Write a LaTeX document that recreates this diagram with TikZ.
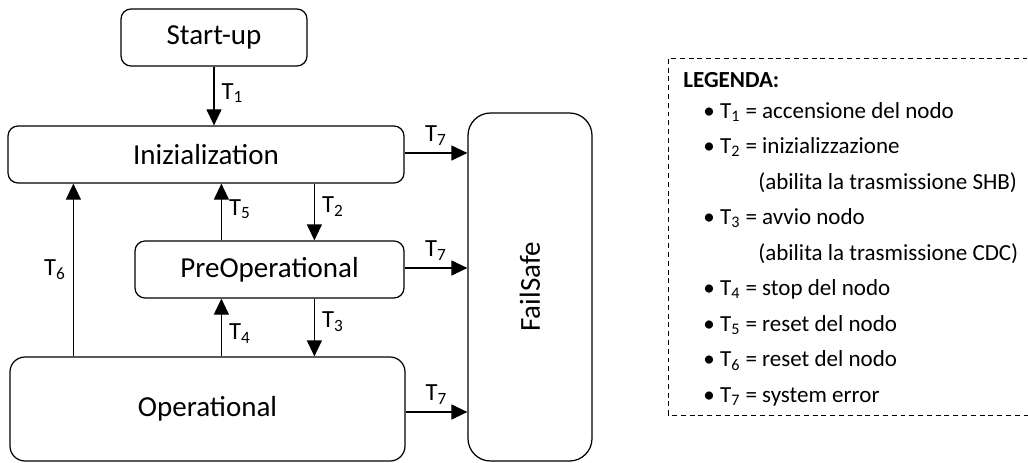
\documentclass[tikz,border=0pt]{standalone}
\usepackage{fontspec}
\setmainfont{Carlito}
\usetikzlibrary{arrows.meta}

\tikzset{
  state/.style={draw, line width=0.7pt, rounded corners=0.2cm, inner sep=0pt,
    minimum height=1.14cm, font=\fontsize{16.5}{19}\selectfont},
  trans/.style={line width=0.7pt, -{Triangle[length=0.32cm,width=0.3cm]}},
  tlabel/.style={font=\fontsize{14}{16}\selectfont, inner sep=4pt},
  legbox/.style={line width=0.55pt, dash pattern=on 2.8pt off 2.2pt},
  legitem/.style={anchor=west, inner sep=0pt, font=\fontsize{13.1}{15}\selectfont,
    text height=1.7ex, text depth=0.5ex}
}
\newcommand{\trn}[1]{T\textsubscript{#1}}

\begin{document}
\begin{tikzpicture}
\useasboundingbox (0,0) rectangle (20.56,-9.24);

% stati della macchina
\node[state, minimum width=3.72cm] (startup) at (4.28,-0.75) {Start-up};
\node[state, minimum width=7.92cm] (init) at (4.12,-3.09) {Inizialization};
\node[state, minimum width=5.38cm] (preop) at (5.39,-5.39) {PreOperational};
\node[state, minimum width=7.9cm, minimum height=2.08cm, rounded corners=0.3cm] (oper) at (4.15,-8.18) {Operational};
\node[state, minimum width=2.48cm, minimum height=6.96cm, rounded corners=0.45cm] (fail) at (10.6,-5.74) {\rotatebox{90}{FailSafe}};

% transizioni
\draw[trans] (startup.south) -- (startup.south |- init.north) node[tlabel, pos=0.45, right] {\trn{1}};
\draw[trans] ([xshift=3.6cm]preop.north west |- init.south) coordinate (t2) -- (t2 |- preop.north) node[tlabel, pos=0.4, right] {\trn{2}};
\draw[trans] ([xshift=3.6cm]preop.south west) coordinate (t3) -- (t3 |- oper.north) node[tlabel, pos=0.4, right] {\trn{3}};
\draw[trans] ([xshift=1.74cm]preop.south west |- oper.north) coordinate (t4) -- (t4 |- preop.south) node[tlabel, pos=0.4, right] {\trn{4}};
\draw[trans] ([xshift=1.74cm]preop.north west) coordinate (t5) -- (t5 |- init.south) node[tlabel, pos=0.55, right] {\trn{5}};
\draw[trans] ([xshift=1.28cm]oper.north west) coordinate (t6) -- (t6 |- init.south) node[tlabel, midway, left] {\trn{6}};
\draw[trans] ([yshift=0.03cm]init.east) -- ([yshift=0.03cm]init.east -| fail.west) node[tlabel, midway, above] {\trn{7}};
\draw[trans] ([yshift=0.03cm]preop.east) -- ([yshift=0.03cm]preop.east -| fail.west) node[tlabel, midway, above] {\trn{7}};
\draw[trans] ([yshift=-0.06cm]oper.east) -- ([yshift=-0.06cm]oper.east -| fail.west) node[tlabel, midway, above] {\trn{7}};

% legenda
\draw[legbox] (20.9,-1.16) -| (13.36,-8.30) -- (20.9,-8.30);
\node[legitem] (leg) at (13.66,-1.64) {\textbf{LEGENDA:}};
\node[legitem] (l1) at (14.06,-2.26) {• \trn{1} = accensione del nodo};
\node[legitem] (l2) at (14.06,-2.97) {• \trn{2} = inizializzazione};
\node[legitem] (l2b) at (15.16,-3.68) {(abilita la trasmissione SHB)};
\node[legitem] (l3) at (14.06,-4.39) {• \trn{3} = avvio nodo};
\node[legitem] (l3b) at (15.16,-5.10) {(abilita la trasmissione CDC)};
\node[legitem] (l4) at (14.06,-5.81) {• \trn{4} = stop del nodo};
\node[legitem] (l5) at (14.06,-6.52) {• \trn{5} = reset del nodo};
\node[legitem] (l6) at (14.06,-7.23) {• \trn{6} = reset del nodo};
\node[legitem] (l7) at (14.06,-7.94) {• \trn{7} = system error};
\end{tikzpicture}
\end{document}
